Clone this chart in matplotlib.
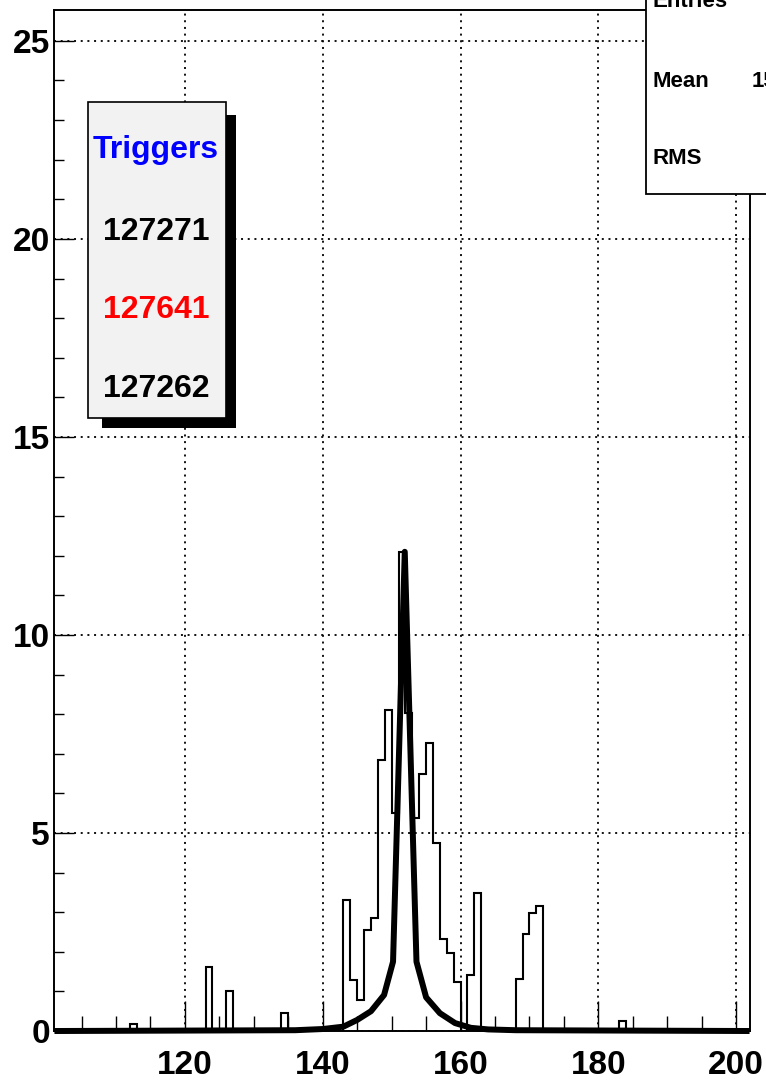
import numpy as np
import matplotlib
matplotlib.use("Agg")
import matplotlib.pyplot as plt
from matplotlib.patches import Rectangle

plt.rcParams['font.family'] = ['Liberation Sans', 'DejaVu Sans']
plt.rcParams['font.weight'] = 'bold'

# ---- data ----
bin_left = [112, 123, 126, 134, 143, 144, 145, 146, 147, 148, 149, 150, 151, 152,
            153, 154, 155, 156, 157, 158, 159, 160, 161, 162, 168, 169, 170, 171, 183]
bin_content = [0.18, 1.61, 1.02, 0.46, 3.31, 1.29, 0.78, 2.55, 2.85, 6.84, 8.10, 5.50,
               12.10, 8.03, 5.38, 6.50, 7.27, 4.75, 2.32, 1.97, 1.24, 0.0, 1.41, 3.49,
               1.32, 2.45, 2.97, 3.16, 0.25]
hist_low, hist_high = 101, 202

fit_x = [101.5, 136, 140, 143, 145, 147, 148.9, 150.2, 151.9, 153.6, 155.0, 157.0,
         159.2, 161.5, 164, 168, 201.5]
fit_y = [0.0, 0.02, 0.05, 0.11, 0.28, 0.5, 0.91, 1.75, 12.1, 1.75, 0.85, 0.45,
         0.2, 0.08, 0.04, 0.02, 0.0]

x_major = [120, 140, 160, 180, 200]
y_major = [0, 5, 10, 15, 20, 25]

trigger_title = "Triggers"
trigger_runs = ["127271", "127641", "127262"]
trigger_colors = ["black", "red", "black"]

stats_labels = ["Entries", "Mean", "RMS"]
stats_mean_text = "152.3"

# ---- figure ----
W, H = 766, 1083
fig = plt.figure(figsize=(W / 100, H / 100), dpi=100)
fig.patch.set_facecolor('white')


def fx(px):
    return px / W


def fy(py):
    return 1 - py / H


ax_l, ax_r, ax_t, ax_b = 54, 750, 10, 1031
ax = fig.add_axes([fx(ax_l), fy(ax_b), (ax_r - ax_l) / W, (ax_b - ax_t) / H])
ax.set_xlim(101, 202)
ax.set_ylim(0, 25.78)

edges = np.arange(hist_low, hist_high + 1)
values = np.zeros(len(edges) - 1)
for b, v in zip(bin_left, bin_content):
    values[b - hist_low] = v

ax.stairs(values, edges, color='black', linewidth=1.5, baseline=0, zorder=3)
ax.plot(fit_x, fit_y, color='black', linewidth=4.3, zorder=4, clip_on=False)

ax.set_xticks(x_major)
ax.set_xticks([t for t in range(105, 200, 5) if t not in x_major], minor=True)
ax.set_yticks(y_major)
ax.set_yticks([t for t in range(1, 26) if t not in y_major], minor=True)
ax.set_xticklabels([str(t) for t in x_major])
ax.set_yticklabels([str(t) for t in y_major])

ax.tick_params(axis='x', which='major', direction='in', length=21.6, width=1.0,
               labelsize=24, pad=14, top=False)
ax.tick_params(axis='x', which='minor', direction='in', length=10.8, width=1.0, top=False)
ax.tick_params(axis='y', which='major', direction='in', length=14.4, width=1.0,
               labelsize=24, pad=3, right=False)
ax.tick_params(axis='y', which='minor', direction='in', length=7.2, width=1.0, right=False)

ax.grid(True, which='major', color='black', linestyle=(0, (1.1, 2.6)), linewidth=1.3,
        zorder=1)
ax.set_axisbelow(True)
for s in ax.spines.values():
    s.set_linewidth(1.4)

# ---- Triggers box ----
fig.add_artist(Rectangle((fx(102), fy(428)), (236 - 102) / W, (428 - 115) / H,
                         transform=fig.transFigure, facecolor='black',
                         edgecolor='none', zorder=5))
fig.add_artist(Rectangle((fx(88), fy(418)), (226 - 88) / W, (418 - 102) / H,
                         transform=fig.transFigure, facecolor='#f2f2f2',
                         edgecolor='black', linewidth=1.2, zorder=6))
fig.text(fx(156), fy(158), trigger_title, color='#0000ff', fontsize=23,
         fontweight='bold', ha='center', va='baseline', zorder=7)
for txt, col, base in zip(trigger_runs, trigger_colors, [240, 318, 397]):
    fig.text(fx(156), fy(base), txt, color=col, fontsize=23, fontweight='bold',
             ha='center', va='baseline', zorder=7)

# ---- stats box (cut by figure edge) ----
fig.add_artist(Rectangle((fx(646), fy(194)), (820 - 646) / W, (194 + 20) / H,
                         transform=fig.transFigure, facecolor='white',
                         edgecolor='black', linewidth=1.3, zorder=6))
for lab, base in zip(stats_labels, [7, 87, 164]):
    fig.text(fx(653), fy(base), lab, fontsize=16, fontweight='bold',
             ha='left', va='baseline', zorder=7)
fig.text(fx(752), fy(87), stats_mean_text, fontsize=16, fontweight='bold',
         ha='left', va='baseline', zorder=7)

fig.savefig('out.png', dpi=100)
